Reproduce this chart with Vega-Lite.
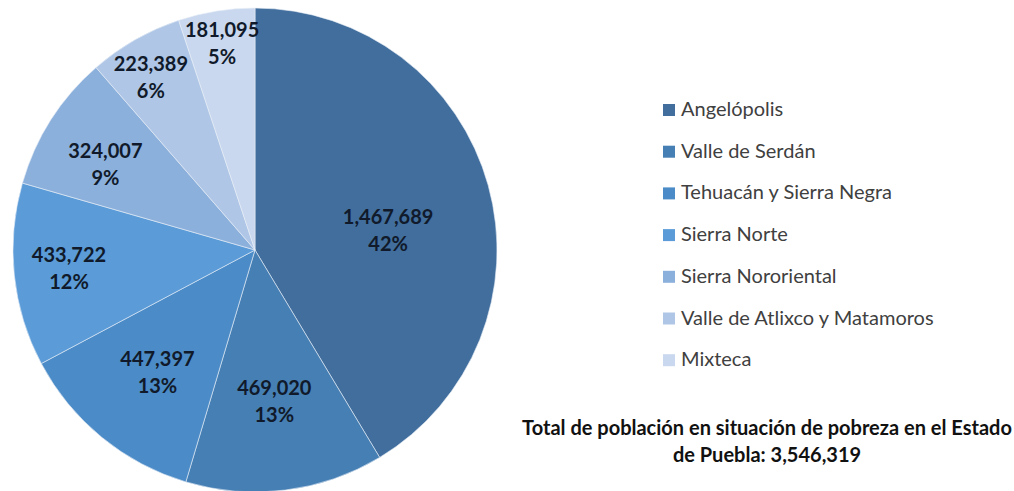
{
  "$schema": "https://vega.github.io/schema/vega-lite/v6.json",
  "width": 510,
  "height": 500,
  "autosize": {"type": "pad"},
  "padding": 0,
  "background": "white",
  "title": {
    "text": ["Total de población en situación de pobreza en el Estado", "de Puebla: 3,546,319"],
    "orient": "bottom",
    "anchor": "middle",
    "offset": -81,
    "dx": 512,
    "font": "Lato",
    "fontSize": 20,
    "fontWeight": "bold",
    "color": "#111111",
    "lineHeight": 27,
    "baseline": "top"
  },
  "data": {
    "values": [
      {"region": "Angelópolis", "value": 1467689, "pct": 42},
      {"region": "Valle de Serdán", "value": 469020, "pct": 13},
      {"region": "Tehuacán y Sierra Negra", "value": 447397, "pct": 13},
      {"region": "Sierra Norte", "value": 433722, "pct": 12},
      {"region": "Sierra Nororiental", "value": 324007, "pct": 9},
      {"region": "Valle de Atlixco y Matamoros", "value": 223389, "pct": 6},
      {"region": "Mixteca", "value": 181095, "pct": 5}
    ]
  },
  "transform": [
    {"calculate": "format(datum.value, ',') + '\\n' + datum.pct + '%'", "as": "label"}
  ],
  "encoding": {
    "theta": {"field": "value", "type": "quantitative", "stack": true},
    "order": {"field": "value", "type": "quantitative", "sort": "descending"},
    "color": {
      "field": "region",
      "type": "nominal",
      "scale": {
        "domain": ["Angelópolis", "Valle de Serdán", "Tehuacán y Sierra Negra", "Sierra Norte", "Sierra Nororiental", "Valle de Atlixco y Matamoros", "Mixteca"],
        "range": ["#416e9d", "#467fb4", "#4b8bc7", "#5a9bd8", "#8cb0dc", "#afc6e6", "#c9d8ee"]
      },
      "legend": {
        "title": null,
        "orient": "none",
        "legendX": 659,
        "legendY": 100,
        "symbolType": "square",
        "symbolSize": 144,
        "symbolStrokeWidth": 0,
        "labelFont": "Lato",
        "labelFontSize": 20,
        "labelColor": "#404040",
        "rowPadding": 21.7,
        "labelOffset": 2,
        "labelLimit": 400
      }
    }
  },
  "layer": [
    {"mark": {"type": "arc", "outerRadius": 242, "stroke": "#e8eef6", "strokeWidth": 0.6}},
    {
      "mark": {"type": "text", "radius": 135, "dx": 3, "dy": 4.5, "font": "Lato", "fontSize": 20, "fontWeight": "bold", "lineBreak": "\n", "lineHeight": 27},
      "encoding": {
        "text": {"condition": {"test": "datum.region === 'Angelópolis'", "field": "label"}, "value": ""},
        "color": {"value": "#101a2a"}
      }
    },
    {
      "mark": {"type": "text", "radius": 154, "dy": -13.5, "font": "Lato", "fontSize": 20, "fontWeight": "bold", "lineBreak": "\n", "lineHeight": 27},
      "encoding": {
        "text": {"condition": {"test": "datum.region === 'Valle de Serdán'", "field": "label"}, "value": ""},
        "color": {"value": "#101a2a"}
      }
    },
    {
      "mark": {"type": "text", "radius": 154, "dy": -9.5, "font": "Lato", "fontSize": 20, "fontWeight": "bold", "lineBreak": "\n", "lineHeight": 27},
      "encoding": {
        "text": {"condition": {"test": "datum.region === 'Tehuacán y Sierra Negra'", "field": "label"}, "value": ""},
        "color": {"value": "#101a2a"}
      }
    },
    {
      "mark": {"type": "text", "radius": 187, "dy": -13.5, "font": "Lato", "fontSize": 20, "fontWeight": "bold", "lineBreak": "\n", "lineHeight": 27},
      "encoding": {
        "text": {"condition": {"test": "datum.region === 'Sierra Norte'", "field": "label"}, "value": ""},
        "color": {"value": "#101a2a"}
      }
    },
    {
      "mark": {"type": "text", "radius": 175, "dx": -2, "dy": -4, "font": "Lato", "fontSize": 20, "fontWeight": "bold", "lineBreak": "\n", "lineHeight": 27},
      "encoding": {
        "text": {"condition": {"test": "datum.region === 'Sierra Nororiental'", "field": "label"}, "value": ""},
        "color": {"value": "#101a2a"}
      }
    },
    {
      "mark": {"type": "text", "radius": 206, "dx": -2, "dy": -6.5, "font": "Lato", "fontSize": 20, "fontWeight": "bold", "lineBreak": "\n", "lineHeight": 27},
      "encoding": {
        "text": {"condition": {"test": "datum.region === 'Valle de Atlixco y Matamoros'", "field": "label"}, "value": ""},
        "color": {"value": "#101a2a"}
      }
    },
    {
      "mark": {"type": "text", "radius": 206, "dy": -15.5, "font": "Lato", "fontSize": 20, "fontWeight": "bold", "lineBreak": "\n", "lineHeight": 27},
      "encoding": {
        "text": {"condition": {"test": "datum.region === 'Mixteca'", "field": "label"}, "value": ""},
        "color": {"value": "#101a2a"}
      }
    }
  ],
  "config": {"view": {"stroke": null}}
}
